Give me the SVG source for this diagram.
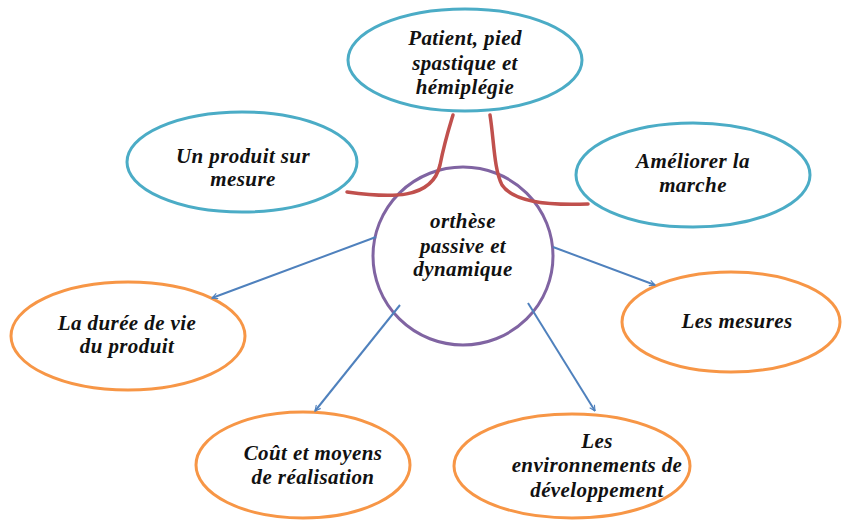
<svg xmlns="http://www.w3.org/2000/svg" width="842" height="521" viewBox="0 0 842 521">
<defs>
<style>
.t{font-family:"Liberation Serif","Times New Roman",serif;font-weight:bold;font-style:italic;font-size:21px;letter-spacing:0.4px;fill:#111;text-anchor:middle}
.cy{fill:#fff;stroke:#4bacc6;stroke-width:3}
.or{fill:#fff;stroke:#f79646;stroke-width:3}
.pu{fill:#fff;stroke:#8064a2;stroke-width:3}
.ar{fill:none;stroke:#4f81bd;stroke-width:2;marker-end:url(#ah)}
.rd{fill:none;stroke:#c0504d;stroke-width:3.5;stroke-linecap:round}
</style>
<marker id="ah" viewBox="0 0 10 10" refX="9" refY="5" markerWidth="7" markerHeight="7" orient="auto" markerUnits="userSpaceOnUse">
<path d="M1,1 L9,5 L1,9" fill="none" stroke="#4f81bd" stroke-width="1.6"/>
</marker>
</defs>
<rect width="842" height="521" fill="#fff"/>
<g id="patient">
<ellipse class="cy" cx="465" cy="60" rx="117" ry="51"/>
<text class="t" x="465" y="45">Patient, pied</text>
<text class="t" x="465" y="70">spastique et</text>
<text class="t" x="465" y="94">hémiplégie</text>
</g>
<g id="produit">
<ellipse class="cy" cx="242" cy="162" rx="115" ry="50"/>
<text class="t" x="243" y="163">Un produit sur</text>
<text class="t" x="243" y="186">mesure</text>
</g>
<g id="ameliorer">
<ellipse class="cy" cx="693" cy="175" rx="117" ry="52"/>
<text class="t" x="693" y="168">Améliorer la</text>
<text class="t" x="693" y="192">marche</text>
</g>
<g id="orthese">
<ellipse class="pu" cx="463" cy="256" rx="90" ry="89"/>
<text class="t" x="463" y="228">orthèse</text>
<text class="t" x="463" y="253">passive et</text>
<text class="t" x="463" y="276">dynamique</text>
</g>
<g id="duree">
<ellipse class="or" cx="128" cy="336" rx="117" ry="54"/>
<text class="t" x="127" y="330">La durée de vie</text>
<text class="t" x="127" y="353">du produit</text>
</g>
<g id="mesures">
<ellipse class="or" cx="731" cy="322" rx="109" ry="50"/>
<text class="t" x="737" y="328">Les mesures</text>
</g>
<g id="cout">
<ellipse class="or" cx="303" cy="465" rx="107" ry="53"/>
<text class="t" x="313" y="460">Coût et moyens</text>
<text class="t" x="313" y="484">de réalisation</text>
</g>
<g id="environnements">
<ellipse class="or" cx="572" cy="466" rx="118" ry="52"/>
<text class="t" x="597" y="448">Les</text>
<text class="t" x="597" y="472">environnements de</text>
<text class="t" x="597" y="497">développement</text>
</g>
<g id="connectors">
<path class="rd" d="M347,192 C390,198 432,200 440,165 C445,140 450,125 453,115"/>
<path class="rd" d="M490,115 C494,140 494,170 502,185 C512,200 540,206 588,204"/>
<path class="ar" d="M376,237 L212,298"/>
<path class="ar" d="M553,247 L655,285"/>
<path class="ar" d="M400,305 L315,411"/>
<path class="ar" d="M528,303 L595,411"/>
</g>
</svg>
